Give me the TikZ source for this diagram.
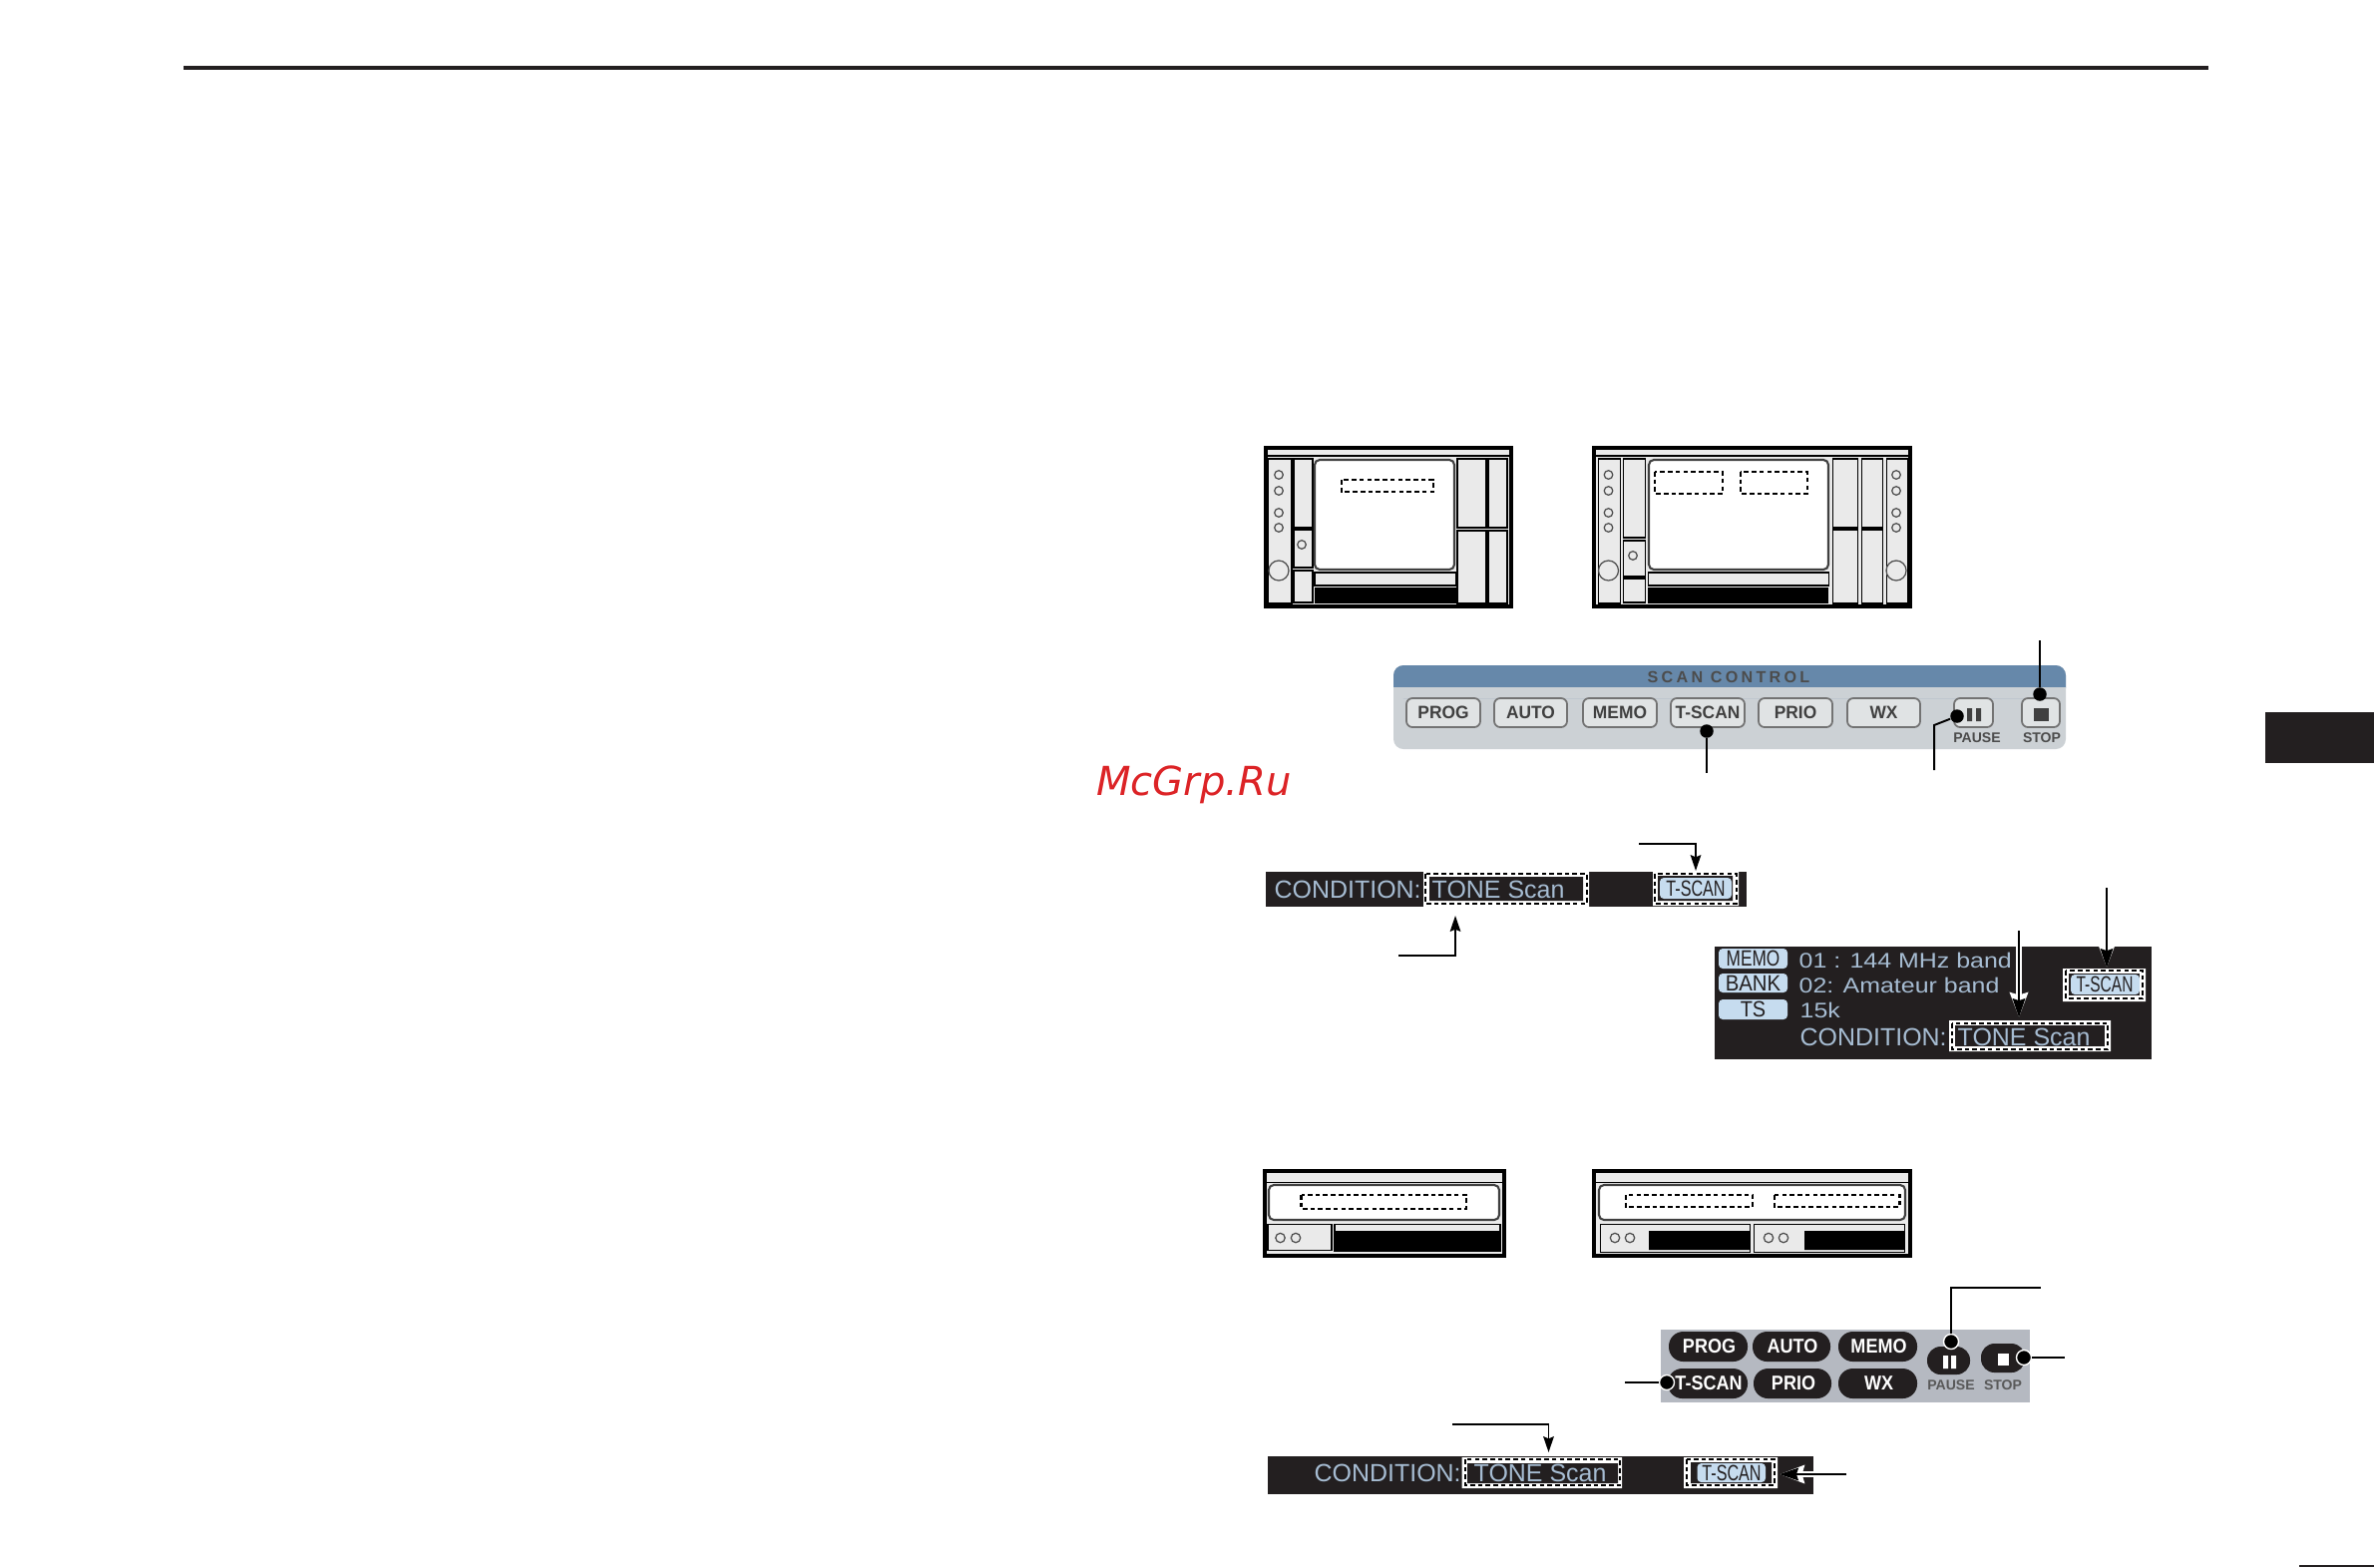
\documentclass[tikz,border=0pt]{standalone}
\usepackage{fontspec}
\setmainfont{Liberation Sans}
\newfontfamily\markfont{DejaVu Sans}
\usetikzlibrary{arrows.meta}
\definecolor{inkdark}{HTML}{231F20}
\definecolor{faceg}{HTML}{EAEAEA}
\definecolor{lcdblue}{HTML}{A6BCD2}
\definecolor{badgeblue}{HTML}{C6DCEF}
\definecolor{scantitle}{HTML}{6688AA}
\definecolor{scanbody}{HTML}{CCD1D5}
\definecolor{scankey}{HTML}{E0E3E4}
\definecolor{graypanel}{HTML}{B5B9C1}
\definecolor{markred}{HTML}{DC2326}
\tikzset{
	face/.style={draw=black,fill=faceg,line width=0.3pt},
	shell/.style={draw=black,fill=faceg,line width=0.9pt},
	screen/.style={draw=black!75,fill=white,line width=0.6pt,rounded corners=0.5mm},
	knob/.style={draw=black!70,fill=none,line width=0.35pt},
	dashbox/.style={draw=black,line width=0.65pt,dash pattern=on 1.3pt off 0.9pt},
	leader/.style={draw=black,line width=0.55pt},
	pointer/.style={leader,-{Stealth[length=4.5pt,width=3pt,inset=0.6pt]}},
	halo/.style={preaction={draw=white,line width=1.5pt,-{Stealth[length=7pt,width=5pt,inset=0.6pt]}},draw=black,line width=0.55pt,
		-{Stealth[length=5.4pt,width=3.6pt,inset=0.6pt]}},
	spot/.style={circle,fill=black,inner sep=0pt,minimum size=1.35mm},
	ringspot/.style={spot,draw=white,line width=0.4pt,minimum size=1.5mm},
	lcd/.style={font=\fontsize{7.1}{8}\selectfont,text=lcdblue,inner sep=0pt,anchor=base west},
	badge/.style={font=\fontsize{6.3}{7}\selectfont,text=inkdark,inner sep=0pt},
	scankeytxt/.style={font=\bfseries\fontsize{5.1}{6}\selectfont,text=black!75,inner sep=0pt},
	pilltxt/.style={font=\bfseries\fontsize{5.7}{6}\selectfont,text=white,inner sep=0pt},
	smalltxt/.style={font=\bfseries\fontsize{4}{5}\selectfont,inner sep=0pt},
}
\begin{document}
\begin{tikzpicture}[x=0.1mm,y=-0.1mm]
	\useasboundingbox (0,0) rectangle (2380,1571);
	\fill[inkdark] (184,66) rectangle (2214,70);
	\fill[inkdark] (2271,714) rectangle (2380,765);
	\fill[inkdark] (2305,1569) rectangle (2380,1571);
	\node[font=\markfont\itshape\fontsize{11.4}{12}\selectfont,text=markred,inner sep=0pt] (mark) at (1197,787) {McGrp.Ru};
	\draw[shell] (1269,449) rectangle (1515,608);
	\draw[face] (1269,457) -- (1515,457);
	\foreach \xa/\ya/\xb/\yb in {1271/460/1295/605,1297/460/1316/529,1297/531/1316/569,1297/572/1316/604,1318/574/1460/587,1461/460/1490/529,1461/532/1490/605,1492/460/1511/529,1492/532/1511/605}
		\draw[face] (\xa,\ya) rectangle (\xb,\yb);
	\draw[screen] (1318,461) rectangle (1458,571);
	\fill[black] (1318,589) rectangle (1460,605);
	\foreach \x/\y in {1282/476,1282/492,1282/514,1282/529,1305/546}
		\draw[knob] (\x,\y) circle (4.3);
	\draw[knob] (1282,572) circle (10);
	\draw[dashbox] (1345,481) rectangle (1437,493);
	\draw[shell] (1598,449) rectangle (1915,608);
	\draw[face] (1598,457) -- (1915,457);
	\foreach \xa/\ya/\xb/\yb in {1602/460/1624/605,1627/460/1649/539,1627/542/1649/578,1627/580/1649/604,1652/574/1833/587,1837/460/1862/529,1837/531/1862/605,1866/460/1887/529,1866/531/1887/605,1891/460/1912/605}
		\draw[face] (\xa,\ya) rectangle (\xb,\yb);
	\draw[screen] (1653,461) rectangle (1833,571);
	\fill[black] (1652,589) rectangle (1833,605);
	\foreach \x/\y in {1612.5/476,1612.5/492,1612.5/514,1612.5/529,1637/557,1901/476,1901/492,1901/514,1901/529}
		\draw[knob] (\x,\y) circle (4.3);
	\foreach \x in {1612.5,1901}
		\draw[knob] (\x,572) circle (10);
	\draw[dashbox] (1659,473) rectangle (1727,495);
	\draw[dashbox] (1745,473) rectangle (1812,495);
	\fill[scanbody,rounded corners=1mm] (1397,667) rectangle (2071,751);
	\fill[scantitle,rounded corners=1mm] (1397,667) rectangle (2071,700);
	\fill[scanbody] (1397,689) rectangle (2071,700);
	\node[font=\bfseries\fontsize{4.6}{5}\selectfont\addfontfeature{LetterSpace=20},text=black!70,inner sep=0pt] (scanhead) at (1733,678.5) {SCAN CONTROL};
	\foreach \t/\xa/\xb in {PROG/1410/1484,AUTO/1498/1571,MEMO/1587/1661,T-SCAN/1675/1749,PRIO/1763/1837,WX/1852/1925}{
		\draw[fill=scankey,draw=black!55,line width=0.5pt,rounded corners=0.6mm] (\xa,700) rectangle (\xb,729);
		\node[scankeytxt] (s\t) at ({(\xa+\xb)/2},714.5) {\scalebox{0.97}[1]{\t}};
	}
	\foreach \xa/\xb in {1959/1998,2027/2065}
		\draw[fill=scankey,draw=black!55,line width=0.5pt,rounded corners=0.6mm] (\xa,700) rectangle (\xb,729);
	\fill[black!75] (1972,710) rectangle (1977,723) (1981,710) rectangle (1986,723);
	\fill[black!75] (2039,710) rectangle (2054,723);
	\node[smalltxt,text=black!70] (spause) at (1982,740) {PAUSE};
	\node[smalltxt,text=black!70] (sstop) at (2047,740) {STOP};
	\node[spot] (dtscan) at (1711,733) {};
	\node[spot] (dstop) at (2045,696) {};
	\node[spot] (dpause) at (1962,718) {};
	\path (1711,775) coordinate (etscan) (2045,642) coordinate (estop)
	(1939,727) coordinate (kpause) (1939,772) coordinate (epause);
	\draw[leader] (dtscan)--(etscan);
	\draw[leader] (dstop)--(estop);
	\draw[leader] (dpause)--(kpause)--(epause);
	\fill[inkdark] (1269,874) rectangle (1751,909);
	\fill[white] (1427,874) rectangle (1593,909) (1657,874) rectangle (1743,908);
	\fill[inkdark] (1433,879) rectangle (1587,903) (1662,878) rectangle (1737,903);
	\draw[dashbox] (1429,876) rectangle (1591,906);
	\draw[dashbox] (1659,876) rectangle (1741,906);
	\fill[badgeblue,rounded corners=0.4mm] (1664,880) rectangle (1736,901);
	\node[lcd] (cond1) at (1277,900) {CONDITION:};
	\node[lcd] (tone1) at (1435,900) {TONE Scan};
	\node[badge] (tscan1) at (1700,890.5) {\scalebox{0.73}[1]{T-SCAN}};
	\path (1643,846) coordinate (aa) (1700,846) coordinate (ab) (1700,873) coordinate (ac)
	(1402,958) coordinate (ba) (1459,958) coordinate (bb) (1459,918) coordinate (bc);
	\draw[pointer] (aa)--(ab)--(ac);
	\draw[pointer] (ba)--(bb)--(bc);
	\fill[inkdark] (1719,949) rectangle (2157,1062);
	\foreach \t/\ya/\yb/\s in {MEMO/951/971/0.78,BANK/976/995/0.92,TS/1002/1022/0.9}{
		\fill[badgeblue,rounded corners=0.4mm] (1723,\ya) rectangle (1792,\yb);
		\node[badge] (b\t) at (1757.5,{(\ya+\yb)/2}) {\scalebox{\s}[1]{\t}};
	}
	\node[lcd] (line1) at (1803,970) {\scalebox{1}[0.85]{01 : 144 MHz band}};
	\node[lcd] (line2) at (1803,995) {\scalebox{1}[0.85]{02: Amateur band}};
	\node[lcd] (line3) at (1804,1020) {\scalebox{1}[0.85]{15k}};
	\node[lcd] (cond2) at (1804,1048) {CONDITION:};
	\fill[white] (1954,1023) rectangle (2116,1054) (2068,971) rectangle (2151,1004);
	\fill[inkdark] (1960,1028) rectangle (2110,1049);
	\fill[inkdark] (2074,976) rectangle (2145,998);
	\draw[dashbox] (1957,1026) rectangle (2113,1052);
	\draw[dashbox] (2071,973) rectangle (2148,1001);
	\fill[badgeblue,rounded corners=0.4mm] (2076,977) rectangle (2145,997);
	\node[lcd] (tone2) at (1962,1048) {TONE Scan};
	\node[badge] (tscan2) at (2110,987) {\scalebox{0.7}[1]{T-SCAN}};
	\path (2024,933) coordinate (ca) (2024,1020) coordinate (cb)
	(2112,890) coordinate (da) (2112,970) coordinate (db);
	\draw[halo] (ca)--(cb);
	\draw[halo] (da)--(db);
	\draw[shell] (1268,1174) rectangle (1508,1259);
	\draw[face] (1268,1185) -- (1508,1185);
	\draw[screen] (1272,1188) rectangle (1503,1223);
	\draw[dashbox] (1304.5,1198) rectangle (1470,1212);
	\draw[face] (1271,1227) rectangle (1335,1253);
	\draw[face] (1338,1227) rectangle (1504,1254);
	\fill[black] (1338,1234) rectangle (1504,1254);
	\foreach \x in {1283.5,1299}
		\draw[knob] (\x,1241) circle (4.7);
	\draw[shell] (1598,1174) rectangle (1915,1259);
	\draw[face] (1598,1185) -- (1915,1185);
	\draw[screen] (1603,1188) rectangle (1910,1223);
	\draw[dashbox] (1630,1198) rectangle (1757,1210);
	\draw[dashbox] (1779,1198) rectangle (1904.5,1210);
	\draw[face,fill=none] (1604,1227) rectangle (1754,1255);
	\draw[face,fill=none] (1758.5,1227) rectangle (1909,1255);
	\fill[black] (1653,1234) rectangle (1754,1253) (1809,1234) rectangle (1909,1253);
	\foreach \x in {1619,1634,1773,1788}
		\draw[knob] (\x,1241) circle (4.7);
	\fill[graypanel] (1665,1333) rectangle (2035,1406);
	\foreach \t/\xa/\xb/\ya/\yb in {PROG/1673/1752/1335/1365,AUTO/1757/1835/1335/1365,MEMO/1843/1922/1335/1365,T-SCAN/1672/1752/1372/1402,PRIO/1758/1836/1372/1402,WX/1843/1922/1372/1402}{
		\fill[inkdark,rounded corners=1.45mm] (\xa,\ya) rectangle (\xb,\yb);
		\node[pilltxt] (p\t) at ({(\xa+\xb)/2+1},{(\ya+\yb)/2}) {\scalebox{0.9}[1]{\t}};
	}
	\fill[inkdark,rounded corners=1.35mm] (1932,1350) rectangle (1975,1378);
	\fill[inkdark,rounded corners=1.35mm] (1986,1347) rectangle (2030,1376);
	\fill[white] (1948,1359) rectangle (1953,1372) (1956,1359) rectangle (1961,1372);
	\fill[white] (2003,1357) rectangle (2014,1369);
	\node[smalltxt,text=black!65] (ppause) at (1956,1389) {PAUSE};
	\node[smalltxt,text=black!65] (pstop) at (2008,1389) {STOP};
	\node[ringspot] (etscan2) at (1671,1386) {};
	\node[ringspot] (epause2) at (1956,1345) {};
	\node[ringspot] (estop2) at (2029,1361) {};
	\path (1629,1386) coordinate (ftscan) (1956,1291) coordinate (kpause2)
	(2046,1291) coordinate (fpause) (2070,1361) coordinate (fstop);
	\draw[leader] (etscan2)--(ftscan);
	\draw[leader] (epause2)--(kpause2)--(fpause);
	\draw[leader] (estop2)--(fstop);
	\fill[inkdark] (1271,1460) rectangle (1818,1498);
	\fill[white] (1465.5,1461) rectangle (1626,1492) (1688,1461) rectangle (1782,1492);
	\fill[inkdark] (1471,1467) rectangle (1622,1487) (1695,1466) rectangle (1776,1487);
	\draw[dashbox] (1469,1463) rectangle (1624,1489);
	\draw[dashbox] (1691,1463) rectangle (1779,1489);
	\fill[badgeblue,rounded corners=0.4mm] (1701.5,1467) rectangle (1770,1486);
	\node[lcd] (cond3) at (1317,1485) {CONDITION:};
	\node[lcd] (tone3) at (1477,1485) {TONE Scan};
	\node[badge] (tscan3) at (1736,1476.5) {\scalebox{0.73}[1]{T-SCAN}};
	\path (1456,1428) coordinate (ga) (1552.5,1428) coordinate (gb) (1552.5,1456) coordinate (gc)
	(1851,1478) coordinate (ha) (1784,1478) coordinate (hb);
	\draw[pointer] (ga)--(gb)--(gc);
	\draw[halo] (ha)--(hb);
\end{tikzpicture}
\end{document}
